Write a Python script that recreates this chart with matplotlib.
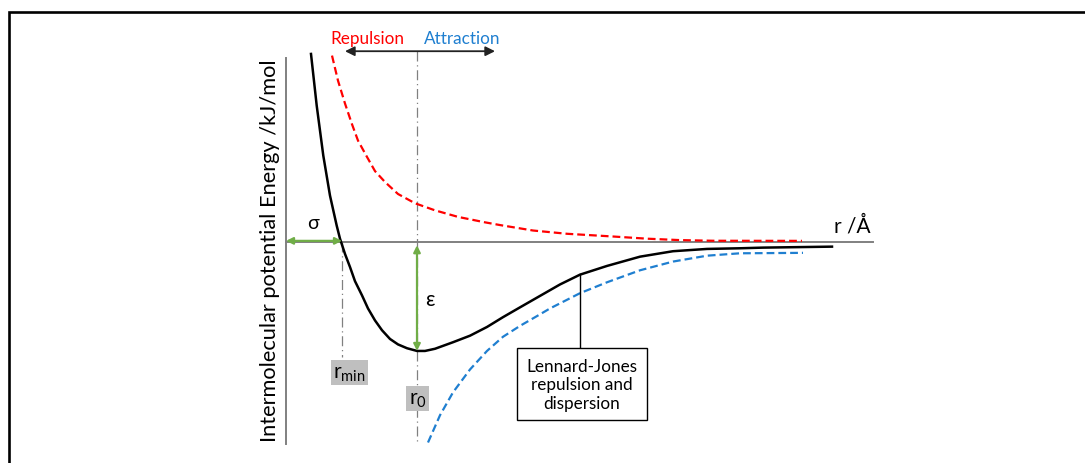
import matplotlib
matplotlib.use('Agg')
import matplotlib.pyplot as plt
from matplotlib.patches import Rectangle

plt.rcParams['font.family'] = ['Lato', 'DejaVu Sans']

# Curves: r in A (arbitrary scale), energy in units of epsilon
lj_r = [0.250, 0.307, 0.373, 0.440, 0.507, 0.540, 0.590, 0.640, 0.690, 0.760,
        0.820, 0.890, 0.960, 1.040, 1.120, 1.210, 1.310, 1.390, 1.490, 1.670,
        1.840, 2.010, 2.170, 2.340, 2.540, 2.740, 2.940, 3.210, 3.540, 3.870,
        4.210, 4.540, 4.770, 5.460]
lj_e = [1.725, 1.251, 0.792, 0.425, 0.150, 0.030, -0.110, -0.230, -0.360, -0.490,
        -0.610, -0.720, -0.810, -0.890, -0.940, -0.975, -1.000, -1.000, -0.980, -0.920,
        -0.860, -0.780, -0.690, -0.600, -0.495, -0.390, -0.300, -0.220, -0.135, -0.085,
        -0.064, -0.058, -0.052, -0.043]

rep_r = [0.46, 0.52, 0.59, 0.66, 0.72, 0.81, 0.89, 0.99, 1.12, 1.29,
         1.49, 1.72, 1.99, 2.14, 2.47, 2.81, 3.27, 3.61, 3.94, 4.27, 5.16]
rep_e = [1.71, 1.48, 1.27, 1.08, 0.93, 0.78, 0.65, 0.55, 0.44, 0.355,
         0.29, 0.23, 0.18, 0.155, 0.105, 0.075, 0.050, 0.030, 0.017, 0.011, 0.010]

att_r = [1.42, 1.54, 1.67, 1.84, 2.01, 2.17, 2.34, 2.51, 2.64, 2.94, 3.21,
         3.54, 3.87, 4.21, 4.54, 5.17]
att_e = [-1.84, -1.59, -1.38, -1.17, -1.00, -0.87, -0.77, -0.68, -0.61, -0.47, -0.37,
         -0.26, -0.18, -0.126, -0.104, -0.100]

sigma = 0.56      # where the LJ curve crosses zero
r0 = 1.31         # position of the minimum
epsilon = -1.00   # well depth
leader_r = 2.94   # where the label box points at the curve

red = '#FF0000'
blue = '#1F7FD0'
green = '#70AD47'
grey = '#808080'

fig = plt.figure(figsize=(10.85, 4.64), dpi=100)
ax = fig.add_axes([0, 0, 1, 1])
ax.set_xlim(-2.86, 7.99)
ax.set_ylim(-2.028, 2.229)
ax.axis('off')

# frame around the picture (open at right and bottom)
fig.patches.append(Rectangle((9 / 1085, -0.1), 1.2, 1.1 - 13 / 464, transform=fig.transFigure,
                             fill=False, ec='black', lw=1.9))

# axes drawn by hand
ax.plot([0, 0], [1.69, -1.85], color=grey, lw=1.4)
ax.plot([0, 5.87], [0, 0], color=grey, lw=1.4)
ax.text(5.66, 0.15, 'r /Å', fontsize=15, ha='center', va='center')
ax.text(-0.16, -0.07, 'Intermolecular potential Energy /kJ/mol', fontsize=15.7,
        rotation=90, ha='center', va='center')

# guide lines
ax.plot([r0, r0], [1.75, -1.85], color=grey, lw=0.9, ls=(0, (8, 3, 1, 3)))
ax.plot([sigma, sigma], [0, -1.06], color=grey, lw=0.9, ls=(0, (8, 3, 1, 3)))

# curves
ax.plot(rep_r, rep_e, color=red, lw=1.6, ls=(0, (3.5, 1.8)))
ax.plot(att_r, att_e, color=blue, lw=1.6, ls=(0, (3.5, 1.8)))
ax.plot(lj_r, lj_e, color='black', lw=1.8)

# repulsion / attraction arrow
ax.annotate('', xy=(0.59, 1.75), xytext=(2.09, 1.75),
            arrowprops=dict(arrowstyle='<|-|>', color='#222222', lw=1.3,
                            mutation_scale=14, shrinkA=0, shrinkB=0))
ax.text(0.815, 1.87, 'Repulsion', color=red, fontsize=12.3, ha='center', va='center')
ax.text(1.765, 1.87, 'Attraction', color=blue, fontsize=12.3, ha='center', va='center')

# sigma and epsilon
ax.annotate('', xy=(0.0, 0.01), xytext=(sigma, 0.01),
            arrowprops=dict(arrowstyle='<|-|>', color=green, lw=1.6,
                            mutation_scale=10, shrinkA=0, shrinkB=0))
ax.text(0.27, 0.18, 'σ', fontsize=14, ha='center', va='center')
ax.annotate('', xy=(r0, -0.03), xytext=(r0, epsilon),
            arrowprops=dict(arrowstyle='<|-|>', color=green, lw=1.6,
                            mutation_scale=10, shrinkA=0, shrinkB=0))
ax.text(1.44, -0.52, 'ε', fontsize=15, ha='center', va='center')

box = dict(boxstyle='square,pad=0.12', fc='#BFBFBF', ec='none')
ax.text(0.635, -1.20, r'r$_{\mathregular{min}}$', fontsize=15, ha='center', va='center', bbox=box)
ax.text(1.315, -1.44, r'r$_{\mathregular{0}}$', fontsize=15, ha='center', va='center', bbox=box)

# label box for the LJ curve
ax.plot([leader_r, leader_r], [-0.29, -0.96], color='black', lw=1.0)
ax.text(2.96, -1.305, 'Lennard-Jones\nrepulsion and\ndispersion', fontsize=12.3,
        ha='center', va='center', linespacing=1.2,
        bbox=dict(boxstyle='square,pad=0.55', fc='white', ec='black', lw=1.0))

fig.savefig('out.png', dpi=100)
